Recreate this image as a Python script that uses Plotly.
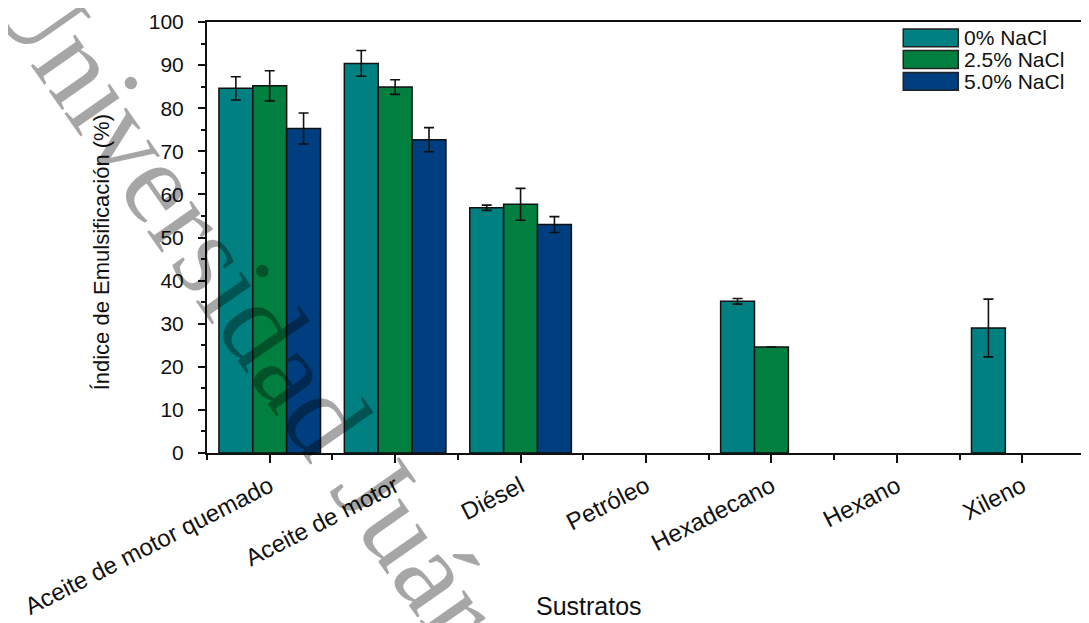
import plotly.graph_objects as go

categories = ["Aceite de motor quemado", "Aceite de motor", "Diésel", "Petróleo",
              "Hexadecano", "Hexano", "Xileno"]
series_names = ["0% NaCl", "2.5% NaCl", "5.0% NaCl"]
colors = ["#008080", "#007F3F", "#003F7F"]

vals_0 = [84.6, 90.4, 56.9, 0, 35.2, 0, 29.0]
vals_25 = [85.2, 84.9, 57.7, 0, 24.6, 0, 0]
vals_50 = [75.3, 72.7, 53.0, 0, 0, 0, 0]

err_0 = [2.7, 3.0, 0.6, None, 0.65, None, 6.7]
err_25 = [3.5, 1.7, 3.7, None, None, None, None]
err_50 = [3.6, 2.8, 1.85, None, None, None, None]

y_ticks = [0, 10, 20, 30, 40, 50, 60, 70, 80, 90, 100]

values = [vals_0, vals_25, vals_50]
errors = [err_0, err_25, err_50]
xpos = list(range(len(categories)))

FONT = "Liberation Sans, Arial, sans-serif"

fig = go.Figure()
for name, col, v, e in zip(series_names, colors, values, errors):
    fig.add_trace(go.Bar(
        x=xpos, y=[val if val > 0 else None for val in v], name=name,
        marker=dict(color=col, line=dict(color="#111111", width=1.5)),
        error_y=dict(type="data", array=e, visible=True, color="#111111",
                     thickness=1.6, width=5),
        showlegend=False,
    ))

# custom legend (large swatches like the original)
row_y = [0.9633, 0.913, 0.862]
for name, col, ry in zip(series_names, colors, row_y):
    fig.add_shape(type="rect", xref="paper", yref="paper",
                  x0=0.793, x1=0.8557, y0=ry - 0.0206, y1=ry + 0.0206,
                  fillcolor=col, line=dict(color="#222222", width=1.5))
    fig.add_annotation(text=name, xref="paper", yref="paper", x=0.860, y=ry,
                       xanchor="left", yanchor="middle", showarrow=False,
                       font=dict(family=FONT, size=21, color="#111111"))

# axis titles
fig.add_annotation(text="Índice de Emulsificación (%)", xref="paper", yref="paper",
                   x=-0.1205, y=0.466, textangle=-90, showarrow=False,
                   xanchor="center", yanchor="middle",
                   font=dict(family=FONT, size=22, color="#111111"))
fig.add_annotation(text="Sustratos", xref="paper", yref="paper",
                   x=0.435, y=-0.3555, showarrow=False,
                   xanchor="center", yanchor="middle",
                   font=dict(family=FONT, size=25, color="#111111"))

# watermark
fig.add_annotation(text="Universidad Juárez", xref="paper", yref="paper",
                   x=0.075, y=0.256, textangle=55, showarrow=False,
                   xanchor="center", yanchor="middle",
                   font=dict(family="Liberation Serif, Times New Roman, serif",
                             size=118, color="rgba(0,0,0,0.35)"))

# page has an 8px body margin: figure is 8px smaller, plot area lands at
# x 207..1087, y 17..453 in the window
fig.update_layout(
    width=1081, height=615,
    margin=dict(l=199, r=2, t=9, b=170),
    paper_bgcolor="white", plot_bgcolor="white",
    barmode="group", bargap=0.19, bargroupgap=0,
    font=dict(family=FONT, color="#111111"),
    showlegend=False,
)
fig.update_xaxes(
    range=[-0.5, 6.5], tickmode="array", tickvals=xpos, ticktext=categories,
    tickangle=-27, tickfont=dict(family=FONT, size=24, color="#111111"),
    ticks="outside", ticklen=8, tickwidth=2, tickcolor="#111111",
    ticklabeloverflow="allow",
    showline=True, linecolor="#111111", linewidth=2, mirror=True,
    showgrid=False, zeroline=False,
    minor=dict(tickmode="array", tickvals=[i + 0.5 for i in xpos[:-1]] + [-0.5],
               ticks="outside", ticklen=5, tickwidth=2, tickcolor="#111111"),
)
fig.update_yaxes(
    range=[0, 100], tickmode="array", tickvals=y_ticks,
    tickfont=dict(family=FONT, size=21, color="#111111"),
    ticks="outside", ticklen=7, tickwidth=2, tickcolor="#111111",
    ticklabelstandoff=10, ticklabeloverflow="allow",
    showline=True, linecolor="#111111", linewidth=2, mirror=True,
    showgrid=False, zeroline=False,
    minor=dict(tickmode="array", tickvals=[t + 5 for t in y_ticks[:-1]],
               ticks="outside", ticklen=4, tickwidth=2, tickcolor="#111111"),
)

fig.write_html("out.html")
